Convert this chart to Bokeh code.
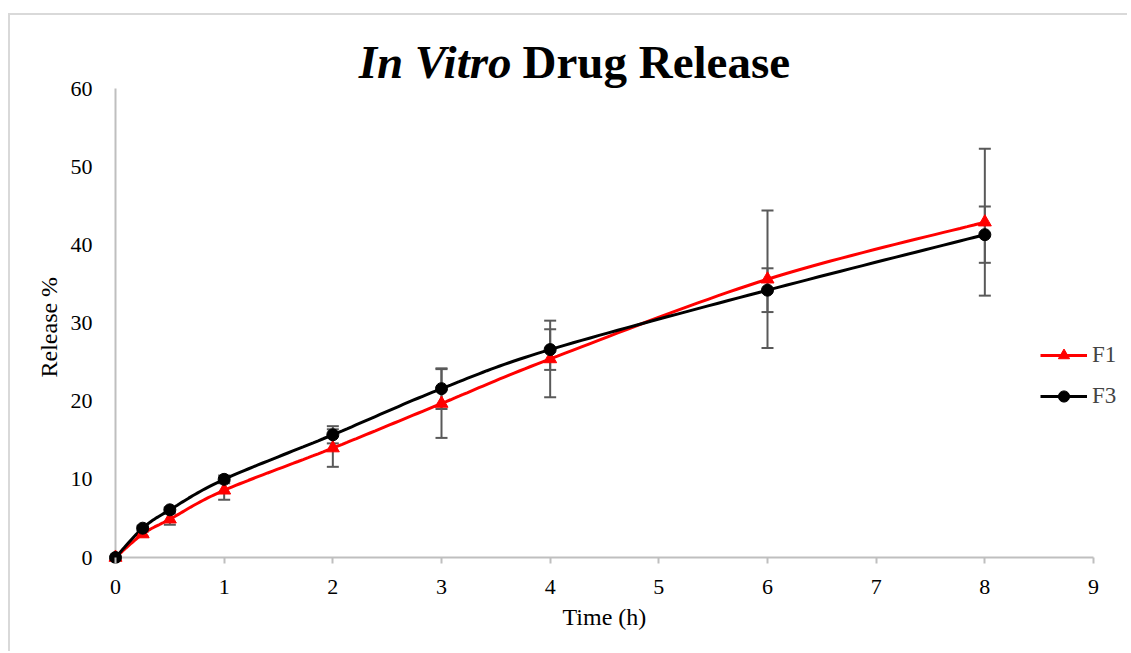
import numpy as np
from bokeh.plotting import figure
from bokeh.models import (Range1d, FixedTicker, Legend, LegendItem, Label, Title,
                          Whisker, TeeHead, ColumnDataSource)
from bokeh.embed import file_html
from bokeh.resources import INLINE

# ---------------- data ----------------
time_h = [0, 0.25, 0.5, 1, 2, 3, 4, 6, 8]
f1_release = [0, 3.0, 4.9, 8.6, 14.0, 19.7, 25.4, 35.6, 42.9]
f1_sd = [0, 0.3, 0.7, 1.2, 2.4, 4.4, 4.9, 8.8, 9.4]
f3_release = [0, 3.75, 6.1, 10.0, 15.7, 21.6, 26.6, 34.2, 41.3]
f3_sd = [0, 0.3, 0.3, 0.5, 1.1, 2.6, 2.6, 2.8, 3.6]
series_names = ["F1", "F3"]
x_ticks = [0, 1, 2, 3, 4, 5, 6, 7, 8, 9]
y_ticks = [0, 10, 20, 30, 40, 50, 60]
title_italic = "In Vitro"
title_rest = "Drug Release"
x_label = "Time (h)"
y_label = "Release %"

FONT = "Liberation Serif"
RED = "#ff0000"
BLACK = "#000000"
ERR = "#595959"
AXIS = "#bfbfbf"


def smooth(xs, ys, n=24):
    """Excel-like smoothed line (Catmull-Rom as cubic Bezier)."""
    P = np.column_stack([xs, ys]).astype(float)
    ext = np.vstack([P[0], P, P[-1]])
    out = []
    for i in range(len(P) - 1):
        p0, p1, p2, p3 = ext[i], ext[i + 1], ext[i + 2], ext[i + 3]
        c1 = p1 + (p2 - p0) / 6.0
        c2 = p2 - (p3 - p1) / 6.0
        t = np.linspace(0, 1, n)[:, None]
        if i > 0:
            t = t[1:]
        seg = ((1 - t) ** 3) * p1 + 3 * ((1 - t) ** 2) * t * c1 + 3 * (1 - t) * t ** 2 * c2 + t ** 3 * p2
        out.append(seg)
    pts = np.vstack(out)
    return pts[:, 0], pts[:, 1]


# ---------------- layout (pixels inside the figure canvas) ----------------
W, H = 1119, 638
X0PX, Y0PX = 105, 542          # where x=0 / y=0 fall
XPU = (1093 - 115) / 9.0       # px per hour
YPU = (557 - 88) / 60.0        # px per percent
PAD_L, PAD_B = 8, 6            # frame extends a bit past the origin
FL = X0PX - PAD_L
FB = Y0PX + PAD_B
x_start = -PAD_L / XPU
x_end = (W - X0PX) / XPU
y_start = -PAD_B / YPU
y_end = Y0PX / YPU

p = figure(width=W, height=H, output_backend="svg", toolbar_location=None,
           x_range=Range1d(x_start, x_end), y_range=Range1d(y_start, y_end),
           min_border_left=FL, min_border_right=0,
           min_border_top=0, min_border_bottom=H - FB)
p.grid.visible = False
p.outline_line_color = None
p.background_fill_color = "white"
p.border_fill_color = "white"
p.styles = {"border-top": "2px solid #d9d9d9", "border-left": "2px solid #d9d9d9",
            "margin-top": "13px", "margin-left": "8px"}

# axes (Bokeh axes give ticks and labels; the axis lines are drawn at the origin)
xa = p.xaxis[0]
xa.ticker = FixedTicker(ticks=x_ticks)
xa.minor_tick_line_color = None
xa.major_tick_in = PAD_B
xa.major_tick_out = 0
xa.major_tick_line_color = AXIS
xa.major_tick_line_width = 2
xa.axis_line_color = None
xa.major_label_text_font = FONT
xa.major_label_text_font_size = "22px"
xa.major_label_text_color = "black"
xa.major_label_standoff = 16

ya = p.yaxis[0]
ya.ticker = FixedTicker(ticks=y_ticks)
ya.minor_tick_line_color = None
ya.major_tick_in = 0
ya.major_tick_out = 0
ya.major_tick_line_color = None
ya.axis_line_color = None
ya.major_label_text_font = FONT
ya.major_label_text_font_size = "22px"
ya.major_label_text_color = "black"
ya.major_label_standoff = 23 - PAD_L

# axis titles, placed along the 0..9 / 0..60 extent of the axes
p.add_layout(Title(text=x_label, align="left", offset=562 - 107,
                   text_font=FONT, text_font_size="24px", text_font_style="normal",
                   text_color="black", standoff=11), "below")
p.add_layout(Title(text=y_label, align="left", offset=563 - 377,
                   text_font=FONT, text_font_size="24px", text_font_style="normal",
                   text_color="black", standoff=11), "left")

# axis lines through the origin
p.segment(x0=[x_ticks[0], x_ticks[0]], y0=[y_ticks[0], y_ticks[0]],
          x1=[x_ticks[-1], x_ticks[0]], y1=[y_ticks[0], y_ticks[-1]],
          line_color=AXIS, line_width=2)

# error bars
for vals, sds in ((f1_release, f1_sd), (f3_release, f3_sd)):
    xs = [t for t, s in zip(time_h, sds) if s > 0]
    up = [v + s for v, s in zip(vals, sds) if s > 0]
    lo = [v - s for v, s in zip(vals, sds) if s > 0]
    src = ColumnDataSource(dict(x=xs, upper=up, lower=lo))
    w = Whisker(base="x", upper="upper", lower="lower", source=src,
                line_color=ERR, line_width=2, level="underlay",
                upper_head=TeeHead(size=12, line_color=ERR, line_width=2),
                lower_head=TeeHead(size=12, line_color=ERR, line_width=2))
    p.add_layout(w)

# series
sx1, sy1 = smooth(time_h, f1_release)
sx3, sy3 = smooth(time_h, f3_release)
l1 = p.line(sx1, sy1, line_color=RED, line_width=3)
l3 = p.line(sx3, sy3, line_color=BLACK, line_width=3)
m1 = p.scatter(time_h, f1_release, marker="triangle", size=13, fill_color=RED, line_color=RED)
m3 = p.scatter(time_h, f3_release, marker="circle", size=12, fill_color=BLACK, line_color=BLACK)

legend = Legend(items=[LegendItem(label=series_names[0], renderers=[l1, m1]),
                       LegendItem(label=series_names[1], renderers=[l3, m3])],
                location=(1040 - 115 + PAD_L, 153),
                label_text_font=FONT, label_text_font_size="23px",
                glyph_width=47, glyph_height=28, label_height=28,
                label_standoff=5, padding=0, margin=0, spacing=13,
                border_line_color=None, background_fill_alpha=0)
p.add_layout(legend)

# title (two runs: bold italic + bold)
split = 522 - 115 + PAD_L
base_y = 557 - 77 + PAD_B + 16
p.add_layout(Label(x=split - 11, y=base_y, x_units="screen", y_units="screen",
                   text=title_italic, text_font=FONT, text_font_style="bold italic",
                   text_font_size="47px", text_align="right", text_baseline="alphabetic",
                   text_color="black"))
p.add_layout(Label(x=split, y=base_y, x_units="screen", y_units="screen",
                   text=title_rest, text_font=FONT, text_font_style="bold",
                   text_font_size="47px", text_align="left", text_baseline="alphabetic",
                   text_color="black"))

open("out.html", "w").write(file_html(p, INLINE))
